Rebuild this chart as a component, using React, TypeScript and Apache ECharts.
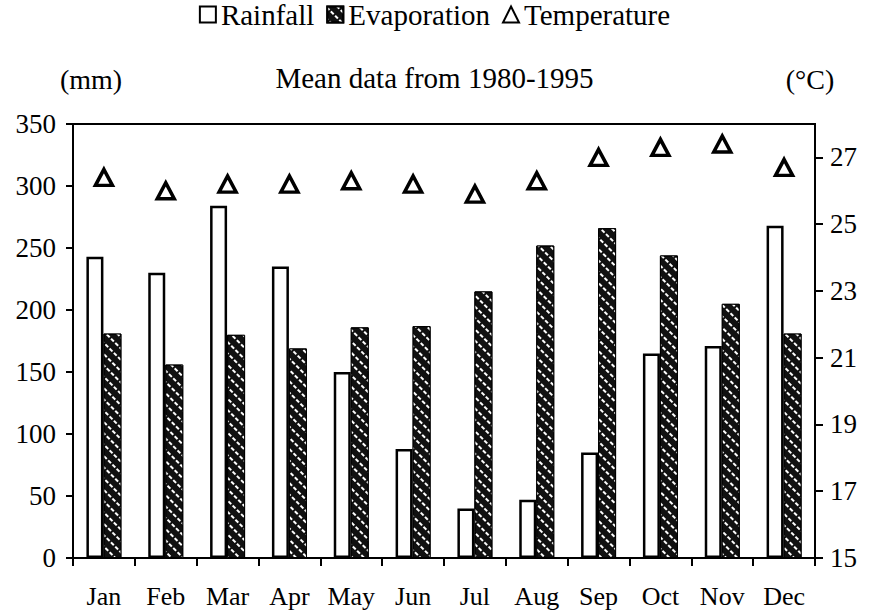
import React, { useEffect, useRef } from 'react';
import * as echarts from 'echarts';

const months = ['Jan', 'Feb', 'Mar', 'Apr', 'May', 'Jun', 'Jul', 'Aug', 'Sep', 'Oct', 'Nov', 'Dec'];
const rainfall = [243, 230, 284, 235, 150, 88, 40, 47, 85, 165, 171, 268];
const evaporation = [181, 156, 180, 169, 186, 187, 215, 252, 266, 244, 205, 181];
const temperature = [26.4, 26.0, 26.2, 26.2, 26.3, 26.2, 25.9, 26.3, 27.0, 27.3, 27.4, 26.7];
const tempTicks = [15, 17, 19, 21, 23, 25, 27];

const FONT = 'Liberation Serif';

export default function App() {
  const ref = useRef<HTMLDivElement>(null);
  useEffect(() => {
    if (!ref.current) return;
    const chart = echarts.init(ref.current, undefined, { renderer: 'svg' });
    chart.setOption({
      animation: false,
      backgroundColor: '#fff',
      textStyle: { fontFamily: FONT, color: '#000' },
      title: {
        text: 'Mean data from 1980-1995',
        left: 'center',
        top: 58,
        textStyle: { fontFamily: FONT, fontSize: 29, fontWeight: 'normal', color: '#000' },
      },
      legend: {
        top: 0,
        padding: 0,
        left: 'center',
        itemWidth: 16,
        itemHeight: 16,
        itemGap: 12,
        textStyle: { fontFamily: FONT, fontSize: 29, color: '#000' },
        data: [
          { name: 'Rainfall', icon: 'rect' },
          { name: 'Evaporation', icon: 'rect' },
          { name: 'Temperature', icon: 'triangle' },
        ],
      },
      graphic: [
        { type: 'text', x: 91, y: 79, style: { text: '(mm)', font: `28px "${FONT}"`, fill: '#000', textAlign: 'center', textVerticalAlign: 'middle' } },
        { type: 'text', x: 810, y: 79, style: { text: '(°C)', font: `28px "${FONT}"`, fill: '#000', textAlign: 'center', textVerticalAlign: 'middle' } },
      ],
      grid: { left: 73, right: 54, top: 124, bottom: 56, show: true, borderColor: '#000', borderWidth: 2, backgroundColor: 'transparent' },
      xAxis: {
        type: 'category',
        data: months,
        axisLine: { lineStyle: { color: '#000', width: 2 } },
        axisTick: { show: true, length: 8, lineStyle: { color: '#000', width: 2 } },
        axisLabel: { color: '#000', fontFamily: FONT, fontSize: 26, margin: 25, interval: 0 },
      },
      yAxis: [
        {
          type: 'value',
          min: 0,
          max: 350,
          interval: 50,
          splitLine: { show: false },
          axisLine: { show: true, lineStyle: { color: '#000', width: 2 } },
          axisTick: { show: true, length: 7, lineStyle: { color: '#000', width: 2 } },
          axisLabel: { color: '#000', fontFamily: FONT, fontSize: 27, margin: 17 },
        },
        {
          type: 'value',
          min: 15,
          max: 28,
          splitLine: { show: false },
          axisLine: { show: true, lineStyle: { color: '#000', width: 2 } },
          axisTick: { show: true, length: 8, customValues: tempTicks, lineStyle: { color: '#000', width: 2 } },
          axisLabel: { color: '#000', fontFamily: FONT, fontSize: 27, margin: 15, customValues: tempTicks },
        },
      ],
      series: [
        {
          name: 'Rainfall',
          type: 'bar',
          data: rainfall,
          barWidth: 17,
          barGap: '0%',
          itemStyle: { color: '#fff', borderColor: '#000', borderWidth: 2.5 },
        },
        {
          name: 'Evaporation',
          type: 'bar',
          data: evaporation,
          barWidth: 18,
          itemStyle: {
            color: '#111',
            borderColor: '#000',
            borderWidth: 1,
            decal: {
              symbol: 'rect',
              symbolSize: 1,
              color: '#fff',
              dashArrayX: [4, 2],
              dashArrayY: [1.5, 5.5],
              rotation: Math.PI / 4,
            },
          },
        },
        {
          name: 'Temperature',
          type: 'scatter',
          yAxisIndex: 1,
          data: temperature,
          symbol: 'triangle',
          symbolSize: [17, 16],
          itemStyle: { color: '#fff', borderColor: '#000', borderWidth: 3.5, opacity: 1 },
        },
      ],
    });
    return () => chart.dispose();
  }, []);
  return <div ref={ref} style={{ position: 'fixed', left: 0, top: 0, width: 869, height: 614 }} />;
}
